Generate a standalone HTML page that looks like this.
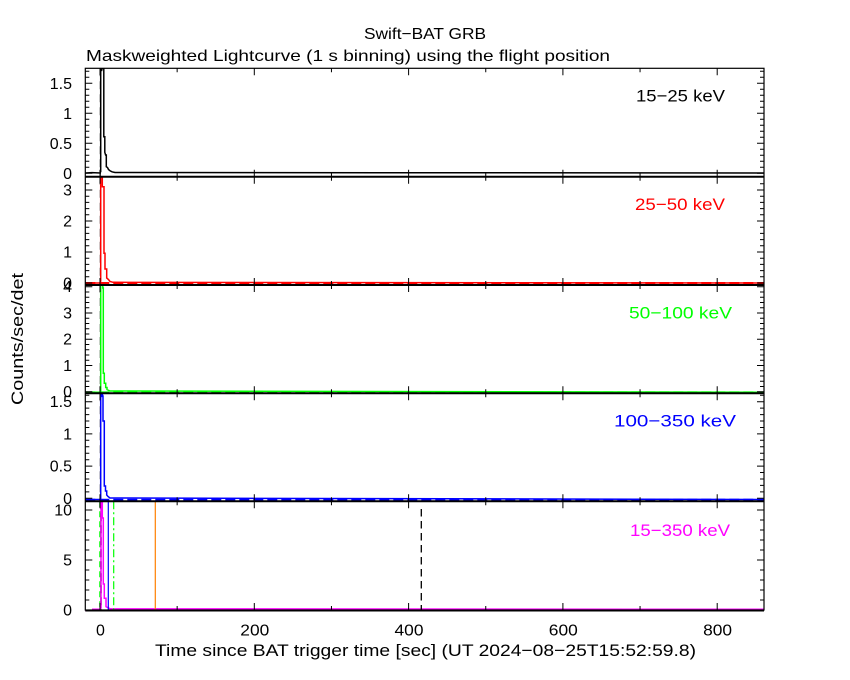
<!DOCTYPE html>
<html><head><meta charset="utf-8"><style>
html,body{margin:0;padding:0;background:#fff;}
svg{display:block;font-family:"Liberation Sans",sans-serif;}
</style></head><body>
<svg width="850" height="680" viewBox="0 0 850 680" xmlns="http://www.w3.org/2000/svg">
<rect x="0" y="0" width="850" height="680" fill="#fff"/>
<defs>
<clipPath id="c1"><rect x="85.3" y="68.3" width="678.7" height="108.4"/></clipPath>
<clipPath id="c2"><rect x="85.3" y="176.7" width="678.7" height="108.3"/></clipPath>
<clipPath id="c3"><rect x="85.3" y="285" width="678.7" height="108.3"/></clipPath>
<clipPath id="c4"><rect x="85.3" y="393.3" width="678.7" height="107.9"/></clipPath>
<clipPath id="c5"><rect x="85.3" y="501.2" width="678.7" height="108.8"/></clipPath>
<path id="xt" d="M100,0v7M254.3,0v7M408.6,0v7M562.9,0v7M717.2,0v7M177.15,0v4M331.45,0v4M485.75,0v4M640.05,0v4" stroke="#000" stroke-width="1" fill="none"/>
<path id="xb" d="M100,0v-7M254.3,0v-7M408.6,0v-7M562.9,0v-7M717.2,0v-7M177.15,0v-4M331.45,0v-4M485.75,0v-4M640.05,0v-4" stroke="#000" stroke-width="1" fill="none"/>
<g id="yt" stroke="#000" stroke-width="1" fill="none">
<path d="M85.3,173.3h7M85.3,143.3h7M85.3,113.3h7M85.3,83.3h7M85.3,167.3h4M85.3,161.3h4M85.3,155.3h4M85.3,149.3h4M85.3,137.3h4M85.3,131.3h4M85.3,125.3h4M85.3,119.3h4M85.3,107.3h4M85.3,101.3h4M85.3,95.3h4M85.3,89.3h4M85.3,77.3h4M85.3,71.3h4"/>
<path d="M85.3,283h7M85.3,252h7M85.3,221h7M85.3,190h7M85.3,276.8h4M85.3,270.6h4M85.3,264.4h4M85.3,258.2h4M85.3,245.8h4M85.3,239.6h4M85.3,233.4h4M85.3,227.2h4M85.3,214.8h4M85.3,208.6h4M85.3,202.4h4M85.3,196.2h4M85.3,183.8h4"/>
<path d="M85.3,391.7h7M85.3,365.45h7M85.3,339.2h7M85.3,312.95h7M85.3,286.7h7M85.3,386.45h4M85.3,381.2h4M85.3,375.95h4M85.3,370.7h4M85.3,360.2h4M85.3,354.95h4M85.3,349.7h4M85.3,344.45h4M85.3,333.95h4M85.3,328.7h4M85.3,323.45h4M85.3,318.2h4M85.3,307.7h4M85.3,302.45h4M85.3,297.2h4M85.3,291.95h4"/>
<path d="M85.3,498.3h7M85.3,466.1h7M85.3,433.9h7M85.3,401.7h7M85.3,491.9h4M85.3,485.4h4M85.3,479h4M85.3,472.5h4M85.3,459.7h4M85.3,453.2h4M85.3,446.8h4M85.3,440.3h4M85.3,427.5h4M85.3,421h4M85.3,414.6h4M85.3,408.1h4M85.3,395.3h4"/>
<path d="M85.3,610h7M85.3,560h7M85.3,510h7M85.3,600h4M85.3,590h4M85.3,580h4M85.3,570h4M85.3,550h4M85.3,540h4M85.3,530h4M85.3,520h4"/>
</g>
</defs>

<!-- titles -->
<text x="425" y="39" font-size="16" text-anchor="middle" textLength="122" lengthAdjust="spacingAndGlyphs">Swift−BAT GRB</text>
<text x="86" y="61" font-size="16" textLength="524" lengthAdjust="spacingAndGlyphs">Maskweighted Lightcurve (1 s binning) using the flight position</text>
<text x="155" y="656" font-size="17" textLength="541" lengthAdjust="spacingAndGlyphs">Time since BAT trigger time [sec] (UT 2024−08−25T15:52:59.8)</text>
<text transform="translate(23,339) rotate(-90)" font-size="17" text-anchor="middle" textLength="132" lengthAdjust="spacingAndGlyphs">Counts/sec/det</text>

<!-- trigger dashed lines in panels 1-4 -->
<g stroke="#000" stroke-width="1" stroke-dasharray="8 5" fill="none">
<path d="M100.3,68.3V176.7M100.3,176.7V285M100.3,285V393.3M100.3,393.3V501.2"/>
</g>

<!-- panel 1 -->
<g clip-path="url(#c1)" fill="none" stroke-width="1.5">
<path stroke="#000" d="M85.3,173 L92,172.6 L100.2,173 L100.2,171.5 L100.7,171.5 L100.7,68.3 L101.5,68.3 L101.5,71 L102.2,68.3 L103.8,68.3 L103.8,136.7 L104.8,136.7 L104.8,152.3 L105.6,155 L106.3,155 L106.3,166.7 L107.5,167.5 L108.5,169.5 L110,170.8 L112,171.8 L115,172.5 L764,173"/>
</g>
<!-- panel 2 -->
<g clip-path="url(#c2)" fill="none" stroke-width="1.5">
<path stroke="#ff0000" d="M85.3,283 L100.3,283 L100.3,281 L100.7,281 L100.7,177.3 L102.3,177.3 L102.3,186.7 L104,186.7 L104,253.3 L105,253.3 L105,269 L106.7,269 L106.7,278 L108.5,279.5 L110,281.5 L113,282.3 L764,283"/>
<path stroke="#ff0000" stroke-width="2" stroke-dasharray="10 4" d="M85.3,283H764"/>
</g>
<!-- panel 3 -->
<g clip-path="url(#c3)" fill="none" stroke-width="1.5">
<path stroke="#00ff00" d="M85.3,392.2 L100.7,392.2 L100.7,285 L102.8,285 L102.8,288 L103.3,288 L103.3,373.3 L104.3,373.3 L104.3,383.3 L105.7,383.3 L105.7,387.5 L107,387.5 L107,389.5 L110,391 L764,392.2"/>
<path stroke="#00ff00" stroke-width="2" stroke-dasharray="10 4" d="M85.3,392.4H764"/>
</g>
<!-- panel 4 -->
<g clip-path="url(#c4)" fill="none" stroke-width="1.5">
<path stroke="#0000ff" d="M85.3,499.5 L100.7,499.5 L100.7,394 L101.5,397 L102,393.5 L103,396 L103,421 L104.3,421 L104.3,486 L105.5,486 L105.5,491 L106.7,491 L106.7,495 L108,496.5 L110,498 L764,499.5"/>
<path stroke="#0000ff" stroke-width="2" stroke-dasharray="10 4" d="M85.3,499.8H764"/>
</g>
<!-- panel 5 -->
<g clip-path="url(#c5)" fill="none">
<path stroke="#00ff00" stroke-width="1.5" stroke-dasharray="6 4" d="M100,501.2V610"/>
<path stroke="#000" stroke-width="1.5" stroke-dasharray="8 4" d="M101,501.2V610"/>
<path stroke="#ff00ff" stroke-width="1.5" d="M92,609.3 L100.3,609.3 L100.3,608 L101,608 L101,501.2 L102.3,501.2 L102.3,518 L103.3,518 L103.3,584 L104.3,584 L104.3,598.3 L106,598.3 L106,606.7 L108,607.7 L110,608.8 L764,609.3"/>
<path stroke="#0000ff" stroke-width="1.2" d="M108.3,501.2V610"/>
<path stroke="#00ff00" stroke-width="1.2" stroke-dasharray="8 3 2 3" d="M113.7,501.2V610"/>
<path stroke="#ff8000" stroke-width="1.2" d="M155.3,501.2V610"/>
<path stroke="#000" stroke-width="1.3" stroke-dasharray="7.5 4.5" d="M421.3,509V610"/>
</g>
<path stroke="#ff00ff" stroke-width="2" stroke-dasharray="9 6" fill="none" d="M85.3,610.5H764"/>

<!-- frame -->
<rect x="85.3" y="68.3" width="678.7" height="541.7" fill="none" stroke="#000" stroke-width="1.2"/>
<path stroke="#000" stroke-width="2" fill="none" d="M85.3,176.7H764M85.3,285H764M85.3,393.3H764M85.3,501.2H764M85.3,610.5H764"/>

<!-- x ticks -->
<use href="#xt" y="68.3"/><use href="#xt" y="176.7"/><use href="#xt" y="285"/><use href="#xt" y="393.3"/><use href="#xt" y="501.2"/>
<use href="#xb" y="176.7"/><use href="#xb" y="285"/><use href="#xb" y="393.3"/><use href="#xb" y="501.2"/><use href="#xb" y="610"/>
<!-- y ticks -->
<use href="#yt"/>
<use href="#yt" transform="translate(849.3,0) scale(-1,1)"/>

<!-- y tick labels -->
<g font-size="16" text-anchor="end" fill="#000">
<text x="72" y="88.8">1.5</text><text x="72" y="118.8">1</text><text x="72" y="148.8">0.5</text><text x="72" y="178.8">0</text>
<text x="72" y="195.5">3</text><text x="72" y="226.5">2</text><text x="72" y="257.5">1</text><text x="72" y="288.5">0</text>
<text x="72" y="292.2">4</text><text x="72" y="318.5">3</text><text x="72" y="344.7">2</text><text x="72" y="371">1</text><text x="72" y="397.2">0</text>
<text x="72" y="407.2">1.5</text><text x="72" y="439.4">1</text><text x="72" y="471.6">0.5</text><text x="72" y="503.8">0</text>
<text x="72" y="515.5">10</text><text x="72" y="565.5">5</text><text x="72" y="615.5">0</text>
</g>
<!-- x tick labels -->
<g font-size="16" text-anchor="middle" fill="#000">
<text x="100.5" y="635.5">0</text>
<text x="254.8" y="635.5" textLength="29" lengthAdjust="spacingAndGlyphs">200</text>
<text x="409" y="635.5" textLength="29" lengthAdjust="spacingAndGlyphs">400</text>
<text x="563.3" y="635.5" textLength="29" lengthAdjust="spacingAndGlyphs">600</text>
<text x="717.6" y="635.5" textLength="29" lengthAdjust="spacingAndGlyphs">800</text>
</g>

<!-- panel labels -->
<g font-size="17">
<text x="636" y="101.7" fill="#000" textLength="89" lengthAdjust="spacingAndGlyphs">15−25 keV</text>
<text x="635" y="210" fill="#ff0000" textLength="90" lengthAdjust="spacingAndGlyphs">25−50 keV</text>
<text x="629" y="318.5" fill="#00ff00" textLength="103" lengthAdjust="spacingAndGlyphs">50−100 keV</text>
<text x="614" y="426.5" fill="#0000ff" textLength="122" lengthAdjust="spacingAndGlyphs">100−350 keV</text>
<text x="630" y="536" fill="#ff00ff" textLength="100" lengthAdjust="spacingAndGlyphs">15−350 keV</text>
</g>
</svg>
</body></html>
